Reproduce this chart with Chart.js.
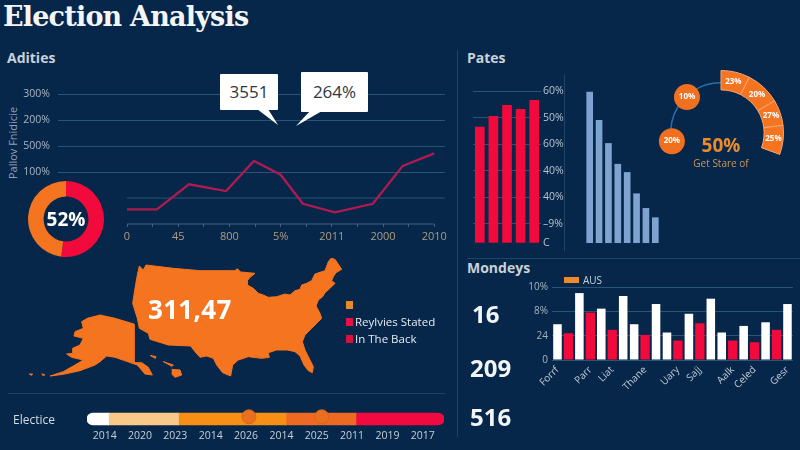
<!DOCTYPE html>
<html>
<head>
<meta charset="utf-8">
<title>Election Analysis</title>
<script src="https://cdn.jsdelivr.net/npm/chart.js@4"></script>
<style>
    html, body { margin: 0; padding: 0; }
    body { width: 800px; height: 450px; overflow: hidden; position: relative; background: #06274a; font-family: "Open Sans", sans-serif; color: #fff; }
    canvas, .txt, .rule, .box, .swatch, svg { position: absolute; }
    .txt { white-space: nowrap; line-height: 1; }
    .section { font-weight: 700; font-size: 14px; color: #c9d1d9; }
    .big { font-weight: 700; font-size: 24px; color: #f2f4f7; }
    .rule { background: #1c4568; }
    .box { background: #fff; color: #2f3640; font-size: 17px; text-align: center; border-radius: 1px; }
    #title { left: 3px; top: 1px; font: 700 27px "DejaVu Serif", serif; letter-spacing: -0.8px; color: #f4f5f6; }
    #axisName { left: 12px; top: 143px; font-size: 11px; color: #8ea3b5; transform: translate(-50%, -50%) rotate(-90deg); }
    #donutText { left: 28px; top: 219px; width: 76px; text-align: center; transform: translateY(-50%); font-weight: 700; font-size: 19px; }
    #gaugeBig { left: 721px; top: 145px; transform: translate(-50%, -50%); font-weight: 700; font-size: 19px; color: #e98a2e; }
    #gaugeSub { left: 721px; top: 163px; transform: translate(-50%, -50%); font-size: 10px; color: #cf9551; }
    #mapValue { left: 148px; top: 309px; transform: translateY(-50%); font-weight: 700; font-size: 26px; letter-spacing: 0.3px; }
</style>
</head>
<body>
<div class="rule" style="left:457px;top:50px;width:1px;height:387px"></div>
<div class="rule" style="left:564px;top:74px;width:1px;height:177px"></div>
<div class="rule" style="left:467px;top:258px;width:333px;height:1px"></div>
<div class="rule" style="left:8px;top:393px;width:437px;height:1px"></div>

<div class="txt" id="title">Election Analysis</div>
<div class="txt section" style="left:7px;top:51px">Adities</div>
<div class="txt section" style="left:467px;top:51px">Pates</div>
<div class="txt section" style="left:467px;top:261px">Mondeys</div>
<div class="txt" id="axisName">Pallov Fnidicie</div>

<canvas id="chart-line" width="430" height="175" style="left:20px;top:80px"></canvas>
<canvas id="chart-donut" width="76" height="76" style="left:28px;top:181px"></canvas>
<div class="txt" id="donutText">52%</div>

<svg width="800" height="450" style="left:0;top:0">
    <polygon points="257,109 278,125 268,109" fill="#fff"></polygon>
    <polygon points="310,111 296,126 322,111" fill="#fff"></polygon>
</svg>
<div class="box" style="left:220px;top:74px;width:58px;height:36px;line-height:36px">3551</div>
<div class="box" style="left:301px;top:72px;width:67px;height:40px;line-height:40px">264%</div>

<canvas id="chart-red" width="100" height="170" style="left:465px;top:81px"></canvas>
<canvas id="chart-blue" width="75" height="152" style="left:585px;top:91px"></canvas>

<canvas id="chart-arc" width="102" height="102" style="left:670px;top:82px"></canvas>
<canvas id="chart-gauge" width="126" height="126" style="left:658px;top:70px"></canvas>
<canvas id="chart-dots" width="126" height="126" style="left:658px;top:70px"></canvas>
<div class="txt" id="gaugeBig">50%</div>
<div class="txt" id="gaugeSub">Get Stare of</div>

<canvas id="chart-map" width="460" height="200" style="left:0;top:250px"></canvas>
<div class="txt" id="mapValue">311,47</div>
<div class="swatch" style="left:346px;top:301px;width:7px;height:8px;background:#e8892e"></div>
<div class="swatch" style="left:346px;top:318px;width:7px;height:8px;background:#ea0f46"></div>
<div class="txt" style="left:355px;top:316px;font-size:11.5px;color:#e6ebf0">Reylvies Stated</div>
<div class="swatch" style="left:346px;top:335px;width:7px;height:8px;background:#d8123f"></div>
<div class="txt" style="left:355px;top:333px;font-size:11.5px;color:#e6ebf0">In The Back</div>

<canvas id="chart-grouped" width="280" height="120" style="left:520px;top:277px"></canvas>
<div class="swatch" style="left:564px;top:277px;width:15px;height:6px;background:#ee8a2c"></div>
<div class="txt" style="left:583px;top:275px;font-size:10px;color:#c6d0da">AUS</div>
<div class="txt big" style="left:472px;top:302px">16</div>
<div class="txt big" style="left:470px;top:356px">209</div>
<div class="txt big" style="left:470px;top:405px">516</div>

<div class="txt" style="left:13px;top:414px;font-size:12px;color:#d3dbe3">Electice</div>
<canvas id="chart-timeline" width="357" height="40" style="left:87px;top:408px"></canvas>
<canvas id="chart-markers" width="357" height="22" style="left:87px;top:408px"></canvas>

<script>
const GRID = '#2a5477';
const RED = '#f20a3c';
const ORANGE = '#f5741f';

// line chart, top left
const lineX = [0, 1.17, 2.42, 3.87, 4.96, 6, 6.87, 8.12, 9.6, 10.77, 12];
const lineY = [0.56, 0.56, 1.53, 1.27, 2.43, 1.9, 0.78, 0.45, 0.78, 2.24, 2.72];
const lineYTicks = ['', '', '100%', '500%', '200%', '300%'];
const lineXTicks = ['0', '', '45', '', '800', '', '5%', '', '2011', '', '2000', '', '2010'];

const donutValues = [52, 48];

// bars under "Pates"
const redValues = [4.64, 5.05, 5.46, 5.31, 5.65];
const redCategories = ['a', 'b', 'c', 'd', 'e'];
const redTicks = ['C', '–9%', '40%', '40%', '60%', '50%', '60%'];
const blueValues = [5.96, 4.9, 4.03, 3.25, 2.94, 2.14, 1.59, 1.24];
const blueCategories = ['a', 'b', 'c', 'd', 'e', 'f', 'g', 'h'];

// gauge, right
const gaugeSpans = [27, 32, 24, 27];
const gaugeLabels = ['23%', '20%', '27%', '25%'];
const arcSpan = 95;
const dotX = [-0.54, -0.78];
const dotY = [0.57, -0.13];
const dotLabels = ['10%', '20%'];

// "Mondeys" bars: one slot per bar, each slot filled by one series only
const groupedCategories = ['Forrf', '', '', 'Parr', '', 'Liat', '', '', 'Thane', '', '', 'Uary', '', 'Sajj', '', '', 'Aalk', '', 'Celed', '', '', 'Gesr'];
const groupedWhite = [1.47, null, 2.75, null, 2.11, null, 2.63, 1.47, null, 2.3, 1.13, null, 1.9, null, 2.52, 1.13, null, 1.4, null, 1.55, null, 2.3];
const groupedRed = [null, 1.1, null, 1.95, null, 1.24, null, null, 1.03, null, null, 0.8, null, 1.51, null, null, 0.8, null, 0.73, null, 1.24, null];
const groupedTicks = ['0', '24', '8%', '10%'];

// outline of the map, in map units
const mainlandX = [418, 430, 438, 520, 600, 705, 712, 722, 745, 765, 750, 742, 742, 760, 775, 790, 805, 830, 855, 870, 885, 900, 905, 920, 935, 945, 975, 985, 993, 1005, 1025, 1008, 1000, 995, 1005, 990, 975, 968, 955, 948, 960, 965, 952, 935, 915, 907, 915, 925, 940, 937, 925, 912, 900, 885, 862, 830, 805, 808, 785, 745, 715, 698, 692, 668, 650, 640, 620, 600, 585, 572, 505, 450, 445, 418, 412, 398, 405, 412, 418];
const mainlandY = [48, 60, 45, 55, 62, 62, 56, 66, 68, 70, 82, 92, 105, 115, 130, 135, 142, 140, 132, 135, 122, 118, 105, 100, 92, 72, 62, 35, 25, 28, 58, 68, 80, 92, 100, 115, 128, 140, 150, 168, 190, 205, 218, 235, 255, 275, 300, 320, 350, 368, 362, 345, 318, 305, 300, 300, 308, 322, 325, 320, 330, 345, 378, 368, 345, 325, 318, 322, 305, 288, 285, 268, 250, 235, 205, 160, 115, 75, 48];
const alaskaX = [300, 345, 402, 402, 425, 445, 457, 435, 412, 345, 320, 300, 285, 240, 190, 150, 190, 225, 250, 215, 200, 218, 218, 240, 250, 222, 225, 250, 245, 262, 300];
const alaskaY = [195, 205, 222, 338, 338, 352, 375, 372, 345, 322, 318, 335, 345, 362, 373, 378, 365, 345, 330, 322, 312, 310, 295, 285, 265, 258, 245, 235, 215, 205, 195];
const aleutianX = [88, 98, 95, 88];
const aleutianY = [372, 372, 376, 372];
const aleutian2X = [125, 135, 130, 125];
const aleutian2Y = [372, 374, 377, 372];
const hawaiiX = [515, 540, 545, 525, 515];
const hawaiiY = [358, 360, 375, 382, 372];
const kauaiX = [450, 468, 466, 450];
const kauaiY = [316, 320, 325, 316];
const mauiX = [490, 520, 516, 490];
const mauiY = [335, 345, 349, 335];

// timeline strip
const timelineSpans = [0.61, 1.98, 3.04, 1.98, 2.49];
const timelineColors = ['#ffffff', '#f9c98a', '#f78f14', '#ee6a22', '#f2093f'];
const timelineYears = ['2014', '2020', '2023', '2014', '2026', '2014', '2025', '2011', '2019', '2017'];
const markerValues = [4.58, 6.64];

Chart.defaults.animation = false;
Chart.defaults.responsive = false;
Chart.defaults.font.family = '"Open Sans", sans-serif';
Chart.defaults.plugins.legend.display = false;
Chart.defaults.plugins.tooltip.enabled = false;

function getElement(id) {
    return document.getElementById(id);
}

function toPoints(xs, ys) {
    return xs.map((x, i) => ({ x, y: ys[i] }));
}

// writes a short text in the middle of each element of the first dataset
function elementLabels(labels, font) {
    return {
        id: 'elementLabels',
        afterDatasetsDraw(chart) {
            const { ctx } = chart;
            ctx.save();
            ctx.font = font;
            ctx.fillStyle = '#ffffff';
            ctx.textAlign = 'center';
            ctx.textBaseline = 'middle';
            chart.getDatasetMeta(0).data.forEach((el, i) => {
                if (labels[i]) {
                    const pos = el.tooltipPosition();
                    ctx.fillText(labels[i], pos.x, pos.y);
                }
            });
            ctx.restore();
        },
    };
}

function createLineChart() {
    new Chart(getElement('chart-line'), {
        type: 'scatter',
        data: {
            datasets: [
                {
                    data: toPoints(lineX, lineY),
                    showLine: true,
                    borderColor: '#b01a50',
                    borderWidth: 2.3,
                    pointRadius: 0,
                    tension: 0,
                },
                {
                    data: toPoints([0, 12.42], [1, 1]),
                    showLine: true,
                    borderColor: GRID,
                    borderWidth: 1,
                    pointRadius: 0,
                },
                {
                    data: toPoints([0, 12], [0, 0]),
                    showLine: true,
                    borderColor: '#3c6482',
                    borderWidth: 1,
                    pointRadius: 0,
                    clip: false,
                },
            ],
        },
        options: {
            layout: { padding: { top: 10, right: 5 } },
            scales: {
                x: {
                    type: 'linear',
                    min: -2.695,
                    max: 12.42,
                    afterBuildTicks(scale) {
                        scale.ticks = lineXTicks.map((_, i) => ({ value: i }));
                    },
                    afterFit(scale) {
                        scale.height = 31;
                    },
                    border: { display: false },
                    grid: { drawOnChartArea: false, color: '#3c6482', tickLength: 3 },
                    ticks: {
                        autoSkip: false,
                        maxRotation: 0,
                        padding: 3,
                        color: '#b09d80',
                        font: { size: 11 },
                        callback: (value) => lineXTicks[value],
                    },
                },
                y: {
                    min: 0,
                    max: 5,
                    afterFit(scale) {
                        scale.width = 38;
                    },
                    border: { display: false },
                    grid: {
                        drawTicks: false,
                        color: (ctx) => (ctx.tick.value >= 2 ? GRID : 'transparent'),
                    },
                    ticks: {
                        stepSize: 1,
                        padding: 8,
                        color: '#a7b6c4',
                        font: { size: 10.5 },
                        callback: (value) => lineYTicks[value],
                    },
                },
            },
        },
    });
}

function createDonutChart() {
    new Chart(getElement('chart-donut'), {
        type: 'doughnut',
        data: {
            labels: ['Red', 'Orange'],
            datasets: [{ data: donutValues, backgroundColor: [RED, ORANGE], borderWidth: 0 }],
        },
        options: { cutout: '59%' },
    });
}

function createRedBars() {
    new Chart(getElement('chart-red'), {
        type: 'bar',
        data: {
            labels: redCategories,
            datasets: [{ data: redValues, backgroundColor: '#f20a3c', barThickness: 9 }],
        },
        options: {
            layout: { padding: { left: 8, top: 10, bottom: 8 } },
            scales: {
                x: { display: false },
                y: {
                    position: 'right',
                    min: 0.29,
                    max: 6,
                    afterBuildTicks(scale) {
                        scale.ticks = [0.29, 1, 2, 3, 4, 5, 6].map((value) => ({ value }));
                    },
                    afterFit(scale) {
                        scale.width = 24;
                    },
                    border: { display: false },
                    grid: {
                        drawTicks: false,
                        color: (ctx) => (ctx.index === 0 ? 'transparent' : GRID),
                    },
                    ticks: {
                        autoSkip: false,
                        padding: 2,
                        color: '#b7c3ce',
                        font: { size: 10.5 },
                        callback: (value, index) => redTicks[index],
                    },
                },
            },
        },
    });
}

function createBlueBars() {
    new Chart(getElement('chart-blue'), {
        type: 'bar',
        data: {
            labels: blueCategories,
            datasets: [{ data: blueValues, backgroundColor: '#7fa3cf', barThickness: 6 }],
        },
        options: {
            scales: {
                x: { display: false },
                y: { display: false, min: 0.29, max: 6 },
            },
        },
    });
}

function createGauge() {
    new Chart(getElement('chart-arc'), {
        type: 'doughnut',
        data: {
            datasets: [{
                data: [arcSpan, 360 - arcSpan],
                backgroundColor: ['#2c6ca6', 'transparent'],
                borderWidth: 0,
            }],
        },
        options: { rotation: -arcSpan, cutout: '97%' },
    });

    const rest = 360 - gaugeSpans.reduce((a, b) => a + b, 0);
    new Chart(getElement('chart-gauge'), {
        type: 'doughnut',
        data: {
            datasets: [{
                data: [...gaugeSpans, rest],
                backgroundColor: [ORANGE, ORANGE, ORANGE, ORANGE, 'transparent'],
                borderColor: ['#f8a873', '#f8a873', '#f8a873', '#f8a873', 'transparent'],
                borderWidth: 1,
            }],
        },
        options: { cutout: '69%' },
        plugins: [elementLabels(gaugeLabels, 'bold 8px "Open Sans"')],
    });

    new Chart(getElement('chart-dots'), {
        type: 'bubble',
        data: {
            datasets: [{
                data: dotX.map((x, i) => ({ x, y: dotY[i], r: 13 })),
                backgroundColor: '#f0701f',
                borderWidth: 0,
                clip: false,
            }],
        },
        options: {
            layout: { autoPadding: false },
            scales: {
                x: { display: false, min: -1, max: 1 },
                y: { display: false, min: -1, max: 1 },
            },
        },
        plugins: [elementLabels(dotLabels, 'bold 8px "Open Sans"')],
    });
}

function createMap() {
    const shape = (xs, ys) => ({
        data: toPoints(xs, ys),
        showLine: true,
        fill: 'shape',
        backgroundColor: ORANGE,
        borderColor: ORANGE,
        borderWidth: 1,
        pointRadius: 0,
        tension: 0,
    });

    new Chart(getElement('chart-map'), {
        type: 'scatter',
        data: {
            datasets: [
                shape(mainlandX, mainlandY),
                shape(alaskaX, alaskaY),
                shape(aleutianX, aleutianY),
                shape(aleutian2X, aleutian2Y),
                shape(hawaiiX, hawaiiY),
                shape(kauaiX, kauaiY),
                shape(mauiX, mauiY),
            ],
        },
        options: {
            layout: { autoPadding: false },
            scales: {
                x: { display: false, min: 0, max: 1380 },
                y: { display: false, min: 0, max: 600, reverse: true },
            },
        },
    });
}

function createGroupedBars() {
    new Chart(getElement('chart-grouped'), {
        type: 'bar',
        data: {
            labels: groupedCategories,
            datasets: [
                { label: 'White', data: groupedWhite, backgroundColor: '#ffffff', barPercentage: 0.78, categoryPercentage: 1 },
                { label: 'Red', data: groupedRed, backgroundColor: RED, barPercentage: 0.85, categoryPercentage: 1 },
            ],
        },
        options: {
            layout: { padding: { top: 10, right: 2 } },
            scales: {
                x: {
                    stacked: true,
                    afterFit(scale) {
                        scale.height = 37;
                    },
                    border: { display: false },
                    grid: { display: false, drawTicks: false },
                    ticks: {
                        autoSkip: false,
                        minRotation: 45,
                        maxRotation: 45,
                        padding: 4,
                        color: '#c2ccd6',
                        font: { size: 10 },
                    },
                },
                y: {
                    stacked: true,
                    min: 0,
                    max: 3,
                    afterFit(scale) {
                        scale.width = 32;
                    },
                    border: { display: false },
                    grid: { drawTicks: false, color: GRID },
                    ticks: {
                        stepSize: 1,
                        padding: 4,
                        color: '#a7b6c4',
                        font: { size: 10 },
                        callback: (value) => groupedTicks[value],
                    },
                },
            },
        },
    });
}

function createTimeline() {
    const last = timelineSpans.length - 1;
    new Chart(getElement('chart-timeline'), {
        type: 'bar',
        data: {
            labels: [''],
            datasets: timelineSpans.map((span, i) => ({
                data: [span],
                backgroundColor: timelineColors[i],
                barThickness: 12,
                borderSkipped: false,
                borderRadius: {
                    topLeft: i === 0 ? 6 : 0,
                    bottomLeft: i === 0 ? 6 : 0,
                    topRight: i === last ? 6 : 0,
                    bottomRight: i === last ? 6 : 0,
                },
            })),
        },
        options: {
            indexAxis: 'y',
            scales: {
                x: {
                    stacked: true,
                    min: 0,
                    max: 10.1,
                    afterBuildTicks(scale) {
                        scale.ticks = timelineYears.map((_, i) => ({ value: i + 0.5 }));
                    },
                    afterFit(scale) {
                        scale.height = 18;
                    },
                    border: { display: false },
                    grid: { display: false, drawTicks: false },
                    ticks: {
                        autoSkip: false,
                        maxRotation: 0,
                        padding: 0,
                        color: '#c5cfd9',
                        font: { size: 10.5 },
                        callback: (value, index) => timelineYears[index],
                    },
                },
                y: { display: false, stacked: true },
            },
        },
    });

    new Chart(getElement('chart-markers'), {
        type: 'bubble',
        data: {
            datasets: [{
                data: markerValues.map((x) => ({ x, y: 0.2, r: 7 })),
                backgroundColor: '#e8701f',
                borderColor: '#d9641b',
                borderWidth: 1,
                clip: false,
            }],
        },
        options: {
            layout: { autoPadding: false },
            scales: {
                x: { display: false, min: 0, max: 10.1 },
                y: { display: false, min: -1, max: 1 },
            },
        },
    });
}

createLineChart();
createDonutChart();
createRedBars();
createBlueBars();
createGauge();
createMap();
createGroupedBars();
createTimeline();
</script>
</body>
</html>
